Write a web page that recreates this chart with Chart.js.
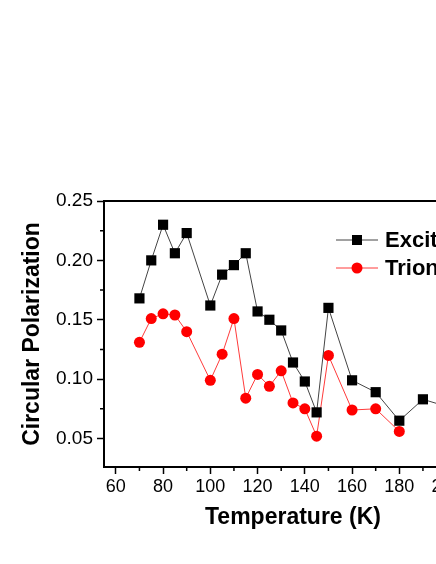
<!DOCTYPE html>
<html>
<head>
<meta charset="utf-8">
<script src="https://cdn.jsdelivr.net/npm/chart.js@4"></script>
<style>
  html, body { margin: 0; padding: 0; background: #fff; overflow: hidden; }
  #wrap { width: 500px; height: 564px; }
</style>
</head>
<body>
<div id="wrap"><canvas id="cp-chart" width="500" height="564"></canvas></div>
<script>
// temperature (K)
var excitonT = [70, 75, 80, 85, 90, 100, 105, 110, 115, 120, 125, 130, 135, 140, 145, 150, 160, 170, 180, 190, 200];
var excitonP = [0.168, 0.200, 0.230, 0.206, 0.223, 0.162, 0.188, 0.196, 0.206, 0.157, 0.150, 0.141, 0.114, 0.098, 0.072, 0.160, 0.099, 0.089, 0.065, 0.083, 0.077];
var trionT = [70, 75, 80, 85, 90, 100, 105, 110, 115, 120, 125, 130, 135, 140, 145, 150, 160, 170, 180];
var trionP = [0.131, 0.151, 0.155, 0.154, 0.140, 0.099, 0.121, 0.151, 0.084, 0.104, 0.094, 0.107, 0.080, 0.075, 0.052, 0.120, 0.074, 0.075, 0.056];
var xTicks = [60, 80, 100, 120, 140, 160, 180, 200];
var xMinor = [70, 90, 110, 130, 150, 170, 190, 210];
var yTicks = [0.05, 0.10, 0.15, 0.20, 0.25];
var yMinor = [0.075, 0.125, 0.175, 0.225];

function pts(xs, ys) {
  return xs.map(function (x, i) { return {x: x, y: ys[i]}; });
}

var FONT = 'Liberation Sans, Arial, sans-serif';

// short minor ticks, top frame line and the line-marker-line legend
var extras = {
  id: 'extras',
  afterDraw: function (chart) {
    var ctx = chart.ctx, a = chart.chartArea;
    var xs = chart.scales.x, ys = chart.scales.y;
    ctx.save();
    ctx.strokeStyle = '#000';
    ctx.lineWidth = 1.5;
    ctx.beginPath();
    xMinor.forEach(function (v) {
      var px = xs.getPixelForValue(v);
      ctx.moveTo(px, a.bottom); ctx.lineTo(px, a.bottom + 4);
    });
    yMinor.forEach(function (v) {
      var py = ys.getPixelForValue(v);
      ctx.moveTo(a.left, py); ctx.lineTo(a.left - 4, py);
    });
    ctx.stroke();
    ctx.lineWidth = 2;
    ctx.beginPath();
    ctx.moveTo(a.left - 1, a.top); ctx.lineTo(a.right, a.top);
    ctx.stroke();

    // legend
    chart.data.datasets.forEach(function (ds, i) {
      var ly = a.top + 39 + i * 28;
      var lx = a.left + 232;
      ctx.strokeStyle = ds.borderColor;
      ctx.lineWidth = 1;
      ctx.beginPath();
      ctx.moveTo(lx, ly); ctx.lineTo(lx + 42, ly);
      ctx.stroke();
      ctx.fillStyle = ds.pointBackgroundColor;
      if (ds.pointStyle === 'rect') {
        ctx.fillRect(lx + 16, ly - 5, 10, 10);
      } else {
        ctx.beginPath();
        ctx.arc(lx + 21, ly, 5.5, 0, Math.PI * 2);
        ctx.fill();
      }
      ctx.fillStyle = '#000';
      ctx.font = 'bold 22px ' + FONT;
      ctx.textBaseline = 'middle';
      ctx.textAlign = 'left';
      ctx.fillText(ds.label, lx + 49, ly + 1);
    });
    ctx.restore();
  }
};

var myChart = new Chart(document.getElementById('cp-chart'), {
  type: 'line',
  data: {
    datasets: [
      {
        label: 'Exciton',
        data: pts(excitonT, excitonP),
        borderColor: '#444',
        borderWidth: 1,
        pointStyle: 'rect',
        pointRadius: 7.2,
        pointBackgroundColor: '#000',
        pointBorderColor: '#000',
        pointBorderWidth: 0,
        tension: 0,
        fill: false
      },
      {
        label: 'Trion',
        data: pts(trionT, trionP),
        borderColor: '#ff3a3a',
        borderWidth: 1,
        pointStyle: 'circle',
        pointRadius: 5.5,
        pointBackgroundColor: '#ff0000',
        pointBorderColor: '#ff0000',
        pointBorderWidth: 0,
        tension: 0,
        fill: false
      }
    ]
  },
  options: {
    responsive: false,
    animation: false,
    clip: false,
    layout: { padding: { top: 201, right: 18, left: 0, bottom: 0 } },
    plugins: { legend: { display: false }, tooltip: { enabled: false } },
    scales: {
      x: {
        type: 'linear',
        min: 55,
        max: 215,
        afterBuildTicks: function (s) { s.ticks = xTicks.map(function (v) { return {value: v}; }); },
        afterFit: function (s) { s.height = 97; },
        border: { color: '#000', width: 2 },
        grid: { drawOnChartArea: false, drawTicks: true, tickLength: 7, tickColor: '#000', tickWidth: 1.5 },
        ticks: { color: '#000', font: { family: FONT, size: 18 }, padding: 2, maxRotation: 0 },
        title: { display: true, text: 'Temperature (K)', color: '#000', font: { family: FONT, size: 23, weight: 'bold' }, padding: { top: 0, bottom: 33 } }
      },
      y: {
        type: 'linear',
        min: 0.026,
        max: 0.25,
        afterBuildTicks: function (s) { s.ticks = yTicks.map(function (v) { return {value: v}; }); },
        afterFit: function (s) { s.width = 104; },
        border: { color: '#000', width: 2 },
        grid: { drawOnChartArea: false, drawTicks: true, tickLength: 7, tickColor: '#000', tickWidth: 1.5 },
        ticks: { color: '#000', font: { family: FONT, size: 19 }, padding: 4, callback: function (v) { return v.toFixed(2); } },
        title: { display: true, text: 'Circular Polarization', color: '#000', font: { family: FONT, size: 23, weight: 'bold' }, padding: { top: 19, bottom: 0 } }
      }
    }
  },
  plugins: [extras]
});
</script>
</body>
</html>
